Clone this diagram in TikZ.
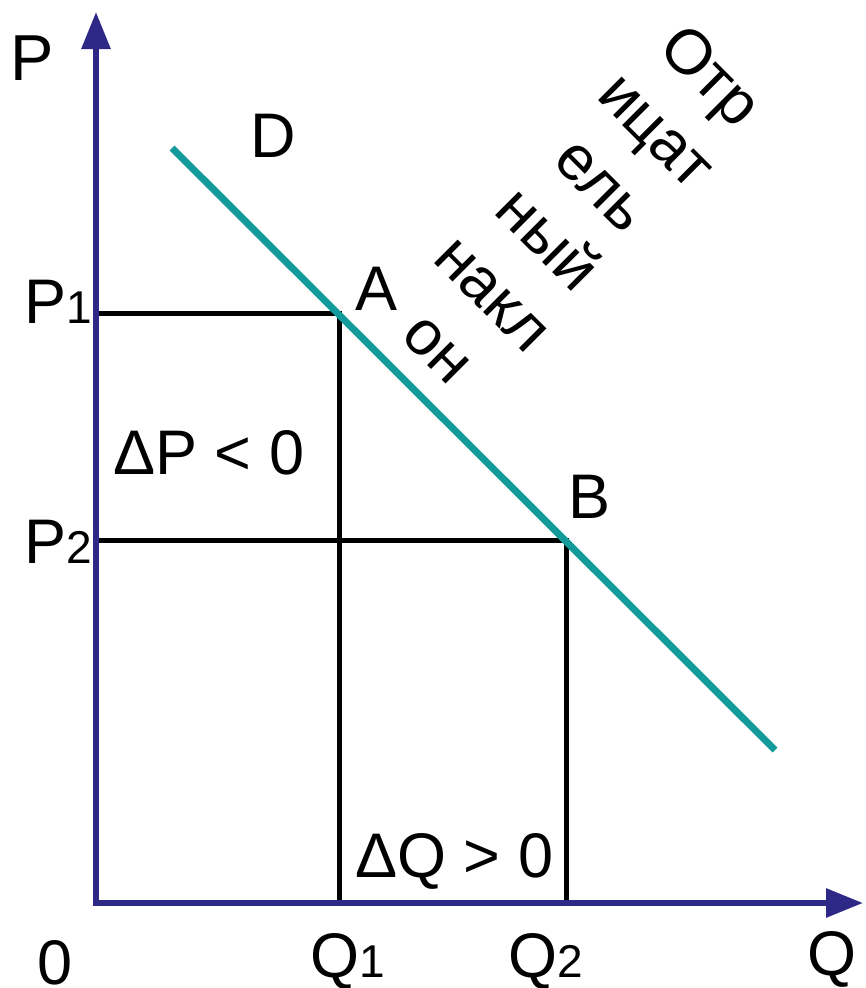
\documentclass[tikz,border=0pt]{standalone}
\usepackage{fontspec}
\setmainfont{Liberation Sans}
\usetikzlibrary{arrows.meta}
\definecolor{axisblue}{RGB}{46,40,135}
\definecolor{demandteal}{RGB}{19,155,155}
\begin{document}
\begin{tikzpicture}[x=1pt,y=-1pt,
  axisline/.style={draw=axisblue,line width=6pt,-{Triangle[length=37pt,width=28pt]}},
  guide/.style={draw=black,line width=5pt},
  demand/.style={draw=demandteal,line width=7pt},
  lbl/.style={inner sep=0pt,anchor=base west,font=\fontsize{63}{70}\selectfont},
  sub/.style={font=\fontsize{46}{50}\selectfont}]
\useasboundingbox (0,0) rectangle (865,988);
\fill[white] (0,0) rectangle (865,988);
% coordinates
\coordinate (O) at (96,903);
\coordinate (Ostart) at (93,903);
\coordinate (Ytop) at (96,12);
\coordinate (Xend) at (863,903);
\coordinate (P1) at (96,313);
\coordinate (P2) at (96,540);
\coordinate (A) at (339,313);
\coordinate (B) at (566,540);
\coordinate (Q1) at (339,903);
\coordinate (Q2) at (566,903);
\coordinate (Dstart) at (172,148);
\coordinate (Dend) at (775,750);
% guides
\draw[guide] (P1) -- (A) -- (Q1);
\draw[guide] (P2) -- (B) -- (Q2);
% axes
\draw[axisline] (O) -- (Ytop);
\draw[axisline] (Ostart) -- (Xend);
% demand
\draw[demand] (Dstart) -- (Dend);
% labels
\node[lbl,font=\fontsize{65}{70}\selectfont] (lP) at (10,80) {P};
\node[lbl] (lD) at (250,157) {D};
\node[lbl] (lP1) at (24,323) {P{\fontsize{46}{50}\selectfont 1}};
\node[lbl] (lA) at (355,310) {A};
\node[lbl] (ldP) at (113,474) {ΔP < 0};
\node[lbl] (lP2) at (24,563) {P{\fontsize{46}{50}\selectfont 2}};
\node[lbl] (lB) at (568,518) {B};
\node[lbl] (ldQ) at (355,877) {ΔQ > 0};
\node[lbl] (l0) at (37,984) {0};
\node[lbl] (lQ1) at (310,977) {Q{\fontsize{46}{50}\selectfont 1}};
\node[lbl] (lQ2) at (508,977) {Q{\fontsize{46}{50}\selectfont 2}};
\node[lbl] (lQ) at (807,975) {Q};
\node[inner sep=0pt,rotate=-45,align=center,font=\fontsize{63}{77}\selectfont] (slope) at (576,211)
  {Отр\\ицат\\ель\\ный\\накл\\он};
\end{tikzpicture}
\end{document}
